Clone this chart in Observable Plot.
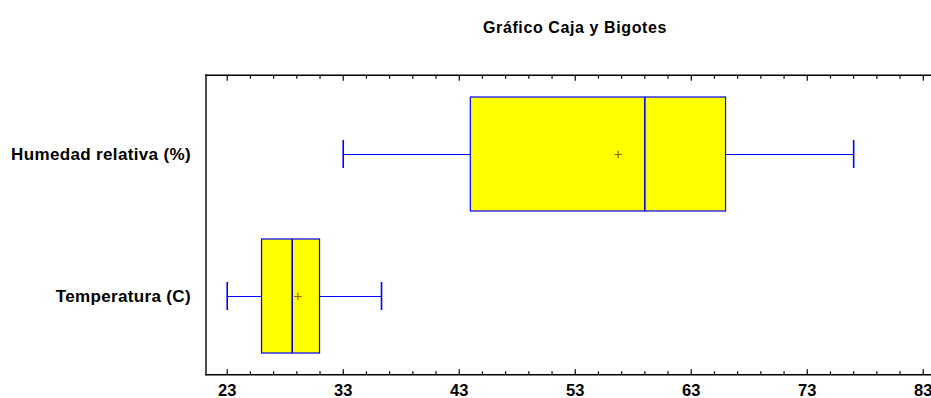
<!DOCTYPE html>
<html>
<head>
<meta charset="utf-8">
<script src="https://cdn.jsdelivr.net/npm/d3@7"></script>
<script src="https://cdn.jsdelivr.net/npm/@observablehq/plot@0.6"></script>
<style>
  html, body { margin: 0; padding: 0; background: #fff; }
  #wrap { position: relative; width: 931px; height: 398px; overflow: hidden; font-family: "Liberation Sans", Arial, sans-serif; }
  #title { position: absolute; left: 0; width: 931px; top: 0; height: 60px; }
  #title span { position: absolute; left: 575px; top: 19px; transform: translateX(-50%); white-space: nowrap; font-weight: bold; font-size: 16px; letter-spacing: 0.6px; color: #000; }
  #chart { position: absolute; left: 0; top: 60px; }
  #chart svg g[aria-label="y-axis tick label"] text { letter-spacing: 0.35px; }
</style>
</head>
<body>
<div id="wrap">
  <div id="title"><span>Gráfico Caja y Bigotes</span></div>
  <div id="chart"></div>
</div>
<script>
const categories = ["Humedad relativa (%)", "Temperatura (C)"];
const mins    = [33, 23];
const q1s     = [44, 26];
const medians = [59, 28.6];
const q3s     = [66, 31];
const maxs    = [77, 36.3];
const means   = [56.7, 29.1];
const majorTicks = [23, 33, 43, 53, 63, 73, 83];
const minorTicks = [25, 27, 29, 31, 35, 37, 39, 41, 45, 47, 49, 51, 55, 57, 59, 61, 65, 67, 69, 71, 75, 77, 79, 81];

const data = categories.map((c, i) => ({
  cat: c, min: mins[i], q1: q1s[i], med: medians[i], q3: q3s[i], max: maxs[i], mean: means[i]
}));

const blue = "#0000ff";

const chart = Plot.plot({
  width: 931,
  height: 338,
  marginLeft: 205.5,
  marginRight: 0,
  marginTop: 14.7,
  marginBottom: 23.7,
  style: {fontFamily: "Liberation Sans, Arial, sans-serif", background: "#fff", overflow: "visible"},
  x: {domain: [21.17, 83.71]},
  y: {type: "band", domain: categories, padding: 0, insetTop: 8.3, insetBottom: 7.3},
  marks: [
    // whiskers
    Plot.ruleY(data, {y: "cat", x1: "min", x2: "max", stroke: blue, strokeWidth: 1.2}),
    Plot.tickX(data, {x: "min", y: "cat", stroke: blue, strokeWidth: 1.6, insetTop: 57, insetBottom: 57}),
    Plot.tickX(data, {x: "max", y: "cat", stroke: blue, strokeWidth: 1.6, insetTop: 57, insetBottom: 57}),
    // boxes
    Plot.barX(data, {y: "cat", x1: "q1", x2: "q3", fill: "#ffff00", stroke: blue, strokeWidth: 1.2, insetTop: 14, insetBottom: 14}),
    // median
    Plot.tickX(data, {x: "med", y: "cat", stroke: blue, strokeWidth: 1.6, insetTop: 14, insetBottom: 14}),
    // mean
    Plot.dot(data, {x: "mean", y: "cat", symbol: "plus", r: 2.6, stroke: "#a06400", strokeWidth: 1.2}),
    // frame (left, top, bottom)
    Plot.frame({anchor: "left", stroke: "#000", strokeWidth: 1.4}),
    Plot.frame({anchor: "top", stroke: "#000", strokeWidth: 1.4}),
    Plot.frame({anchor: "bottom", stroke: "#000", strokeWidth: 1.4}),
    // bottom ticks (inward)
    Plot.axisX({anchor: "bottom", ticks: majorTicks, tickSize: 5, dy: -5, tickFormat: () => "", stroke: "#000", strokeWidth: 1.2}),
    Plot.axisX({anchor: "bottom", ticks: minorTicks, tickSize: 3, dy: -3, tickFormat: () => "", stroke: "#000", strokeWidth: 1.2, label: null}),
    Plot.axisX({anchor: "bottom", ticks: majorTicks, tickSize: 0, tickPadding: 9, tickFormat: d => String(d), label: null, fontSize: 16.5, fontWeight: "bold", fill: "#000"}),
    // top ticks (inward)
    Plot.axisX({anchor: "top", ticks: majorTicks, tickSize: 5, dy: 5, tickFormat: () => "", stroke: "#000", strokeWidth: 1.2, label: null}),
    Plot.axisX({anchor: "top", ticks: minorTicks, tickSize: 3, dy: 3, tickFormat: () => "", stroke: "#000", strokeWidth: 1.2, label: null}),
    // y labels
    Plot.axisY({tickSize: 0, tickPadding: 15, label: null, fontSize: 17, fontWeight: "bold", fill: "#000"})
  ]
});
document.getElementById("chart").appendChild(chart);
</script>
</body>
</html>
